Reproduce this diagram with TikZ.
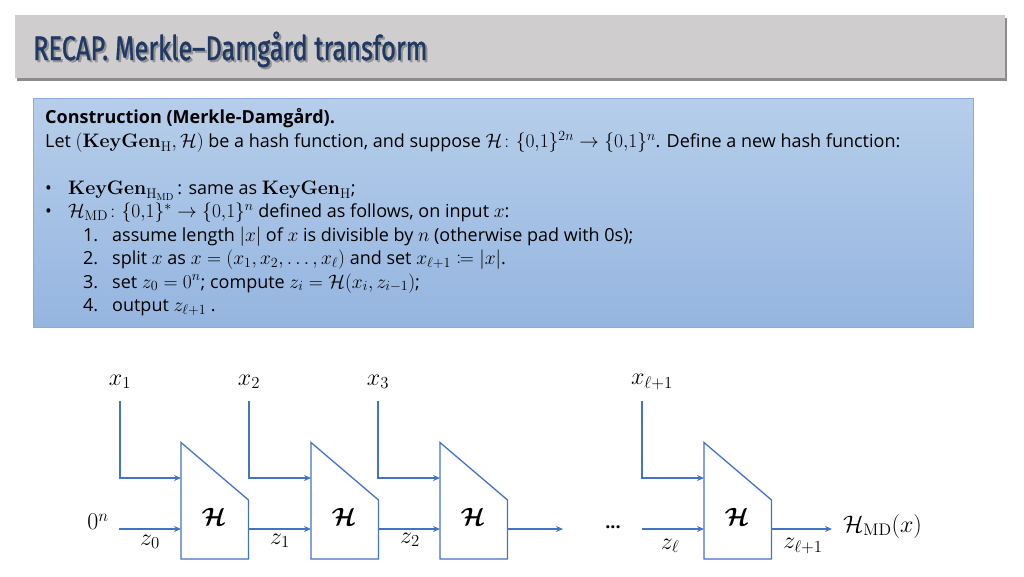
\documentclass[tikz,border=0pt]{standalone}
\usepackage{fix-cm}
\usepackage{amsmath,amssymb,mathtools,bm,graphicx}
\usepackage[no-math]{fontspec}
\setmainfont{Open Sans}
\newfontfamily\titlefont[FakeBold=1.2]{Fira Sans}
\usetikzlibrary{arrows.meta}
\DeclareMathSizes{18}{19.5}{14}{10}
\definecolor{lineblue}{HTML}{4472C4}
\definecolor{barfill}{HTML}{CFCDCD}
\definecolor{barshadow}{HTML}{8C8C8C}
\definecolor{titlenavy}{HTML}{1F3864}
\definecolor{boxtop}{HTML}{B6CEEA}
\definecolor{boxbot}{HTML}{95B5E0}
\definecolor{boxborder}{HTML}{8EAADB}
\tikzset{
  txt/.style={anchor=base west, inner sep=0pt, font=\fontsize{18}{21}\selectfont},
  lbl/.style={inner sep=0pt, font=\fontsize{24}{26}\selectfont},
  hlbl/.style={inner sep=0pt, font=\fontsize{25}{26}\selectfont},
  wire/.style={draw=lineblue, line width=1.3pt},
  arr/.style={wire, -{Stealth[length=7pt,width=6pt]}},
  hbox/.style={draw=lineblue, line width=1.3pt, line join=miter}
}
\begin{document}
\begin{tikzpicture}[x=1pt,y=-1pt]
\useasboundingbox (0,0) rectangle (1024,576);
% title bar
\fill[barshadow] (17,18) rectangle (1007,81);
\fill[barfill] (15,15) rectangle (1005,78);
\node[anchor=base west, inner sep=0pt, text=gray!85] (titleshadow) at (35,62)
  {\titlefont\fontsize{34}{36}\selectfont\scalebox{0.745}[1]{RECAP. Merkle–Damgård transform}};
\node[anchor=base west, inner sep=0pt, text=titlenavy] (title) at (33,60)
  {\titlefont\fontsize{34}{36}\selectfont\scalebox{0.745}[1]{RECAP. Merkle–Damgård transform}};
% construction box
\shade[top color=boxtop, bottom color=boxbot] (33,98) rectangle (973,327);
\draw[boxborder, line width=0.8pt] (33,98) rectangle (973,327);
\node[txt] (l1) at (45,123.5) {\textbf{Construction (Merkle-Damgård).}};
\node[txt] (l2) at (45,147.5) {Let $(\mathbf{KeyGen}_{\mathrm{H}},\mathcal{H})$ be a hash function, and suppose $\mathcal{H}\colon\{0{,}1\}^{2n}\to\{0{,}1\}^{n}$. Define a new hash function:};
\node[txt] (b1) at (45,194) {•};
\node[txt] (b1t) at (68,194) {$\mathbf{KeyGen}_{\smash{\mathrm{H}_{\mathrm{MD}}}}$\,: same as $\mathbf{KeyGen}_{\mathrm{H}}$;};
\node[txt] (b2) at (45,217.5) {•};
\node[txt] (b2t) at (68,217.5) {$\mathcal{H}_{\mathrm{MD}}\colon\{0{,}1\}^{*}\to\{0{,}1\}^{n}$ defined as follows, on input $x$:};
\node[txt] (n1) at (83,241) {1.};
\node[txt] (n1t) at (112,241) {assume length $|x|$ of $x$ is divisible by $n$ (otherwise pad with 0s);};
\node[txt] (n2) at (83,264.5) {2.};
\node[txt] (n2t) at (112,264.5) {split $x$ as $x=(x_1,x_2,\dots,x_\ell)$ and set $x_{\ell+1}\coloneqq|x|$.};
\node[txt] (n3) at (83,288) {3.};
\node[txt] (n3t) at (112,288) {set $z_0=0^n$; compute $z_i=\mathcal{H}(x_i,z_{i-1})$;};
\node[txt] (n4) at (83,311) {4.};
\node[txt] (n4t) at (112,311) {output $z_{\ell+1}$ .};
% hash boxes
\foreach \n/\L in {1/181,2/311,3/440,4/704}{
  \draw[hbox] (\L,442.5) -- (\L+67.5,500) -- (\L+67.5,559) -- (\L,559) -- cycle;
  \coordinate (xin\n) at (\L,478);
  \coordinate (zin\n) at (\L,529);
  \coordinate (zout\n) at (\L+67.5,529);
  \node[hlbl] (H\n) at (\L+33,517) {$\bm{\mathcal{H}}$};
}
% input labels and wires
\node[lbl] (x1) at (120,382) {$x_1$};
\node[lbl] (x2) at (249,382) {$x_2$};
\node[lbl] (x3) at (378,382) {$x_3$};
\node[lbl] (x4) at (652,382) {$x_{\ell+1}$};
\coordinate (x1top) at (120,401);
\coordinate (x2top) at (249,401);
\coordinate (x3top) at (378,401);
\coordinate (x4top) at (642,401);
\foreach \n in {1,2,3,4}{
  \draw[arr] (x\n top) |- (xin\n);
}
% chaining values
\node[lbl] (zeron) at (98,522) {$0^n$};
\coordinate (zstart) at (119,529);
\draw[arr] (zstart) -- (zin1);
\draw[arr] (zout1) -- (zin2);
\draw[arr] (zout2) -- (zin3);
\coordinate (zend3) at (563,529);
\draw[arr] (zout3) -- (zend3);
\node[inner sep=0pt, font=\fontsize{18}{20}\selectfont\bfseries] (dots) at (613,527) {...};
\coordinate (zlstart) at (642,529);
\draw[arr] (zlstart) -- (zin4);
\coordinate (zend4) at (832,529);
\draw[arr] (zout4) -- (zend4);
\node[lbl] (z0) at (150,542) {$z_0$};
\node[lbl] (z1) at (280,541) {$z_1$};
\node[lbl] (z2) at (410,540) {$z_2$};
\node[lbl] (zl) at (670,546) {$z_\ell$};
\node[lbl] (zl1) at (803,546) {$z_{\ell+1}$};
\node[lbl, anchor=west] (out) at (843,526) {$\mathcal{H}_{\mathrm{MD}}(x)$};
\end{tikzpicture}
\end{document}
